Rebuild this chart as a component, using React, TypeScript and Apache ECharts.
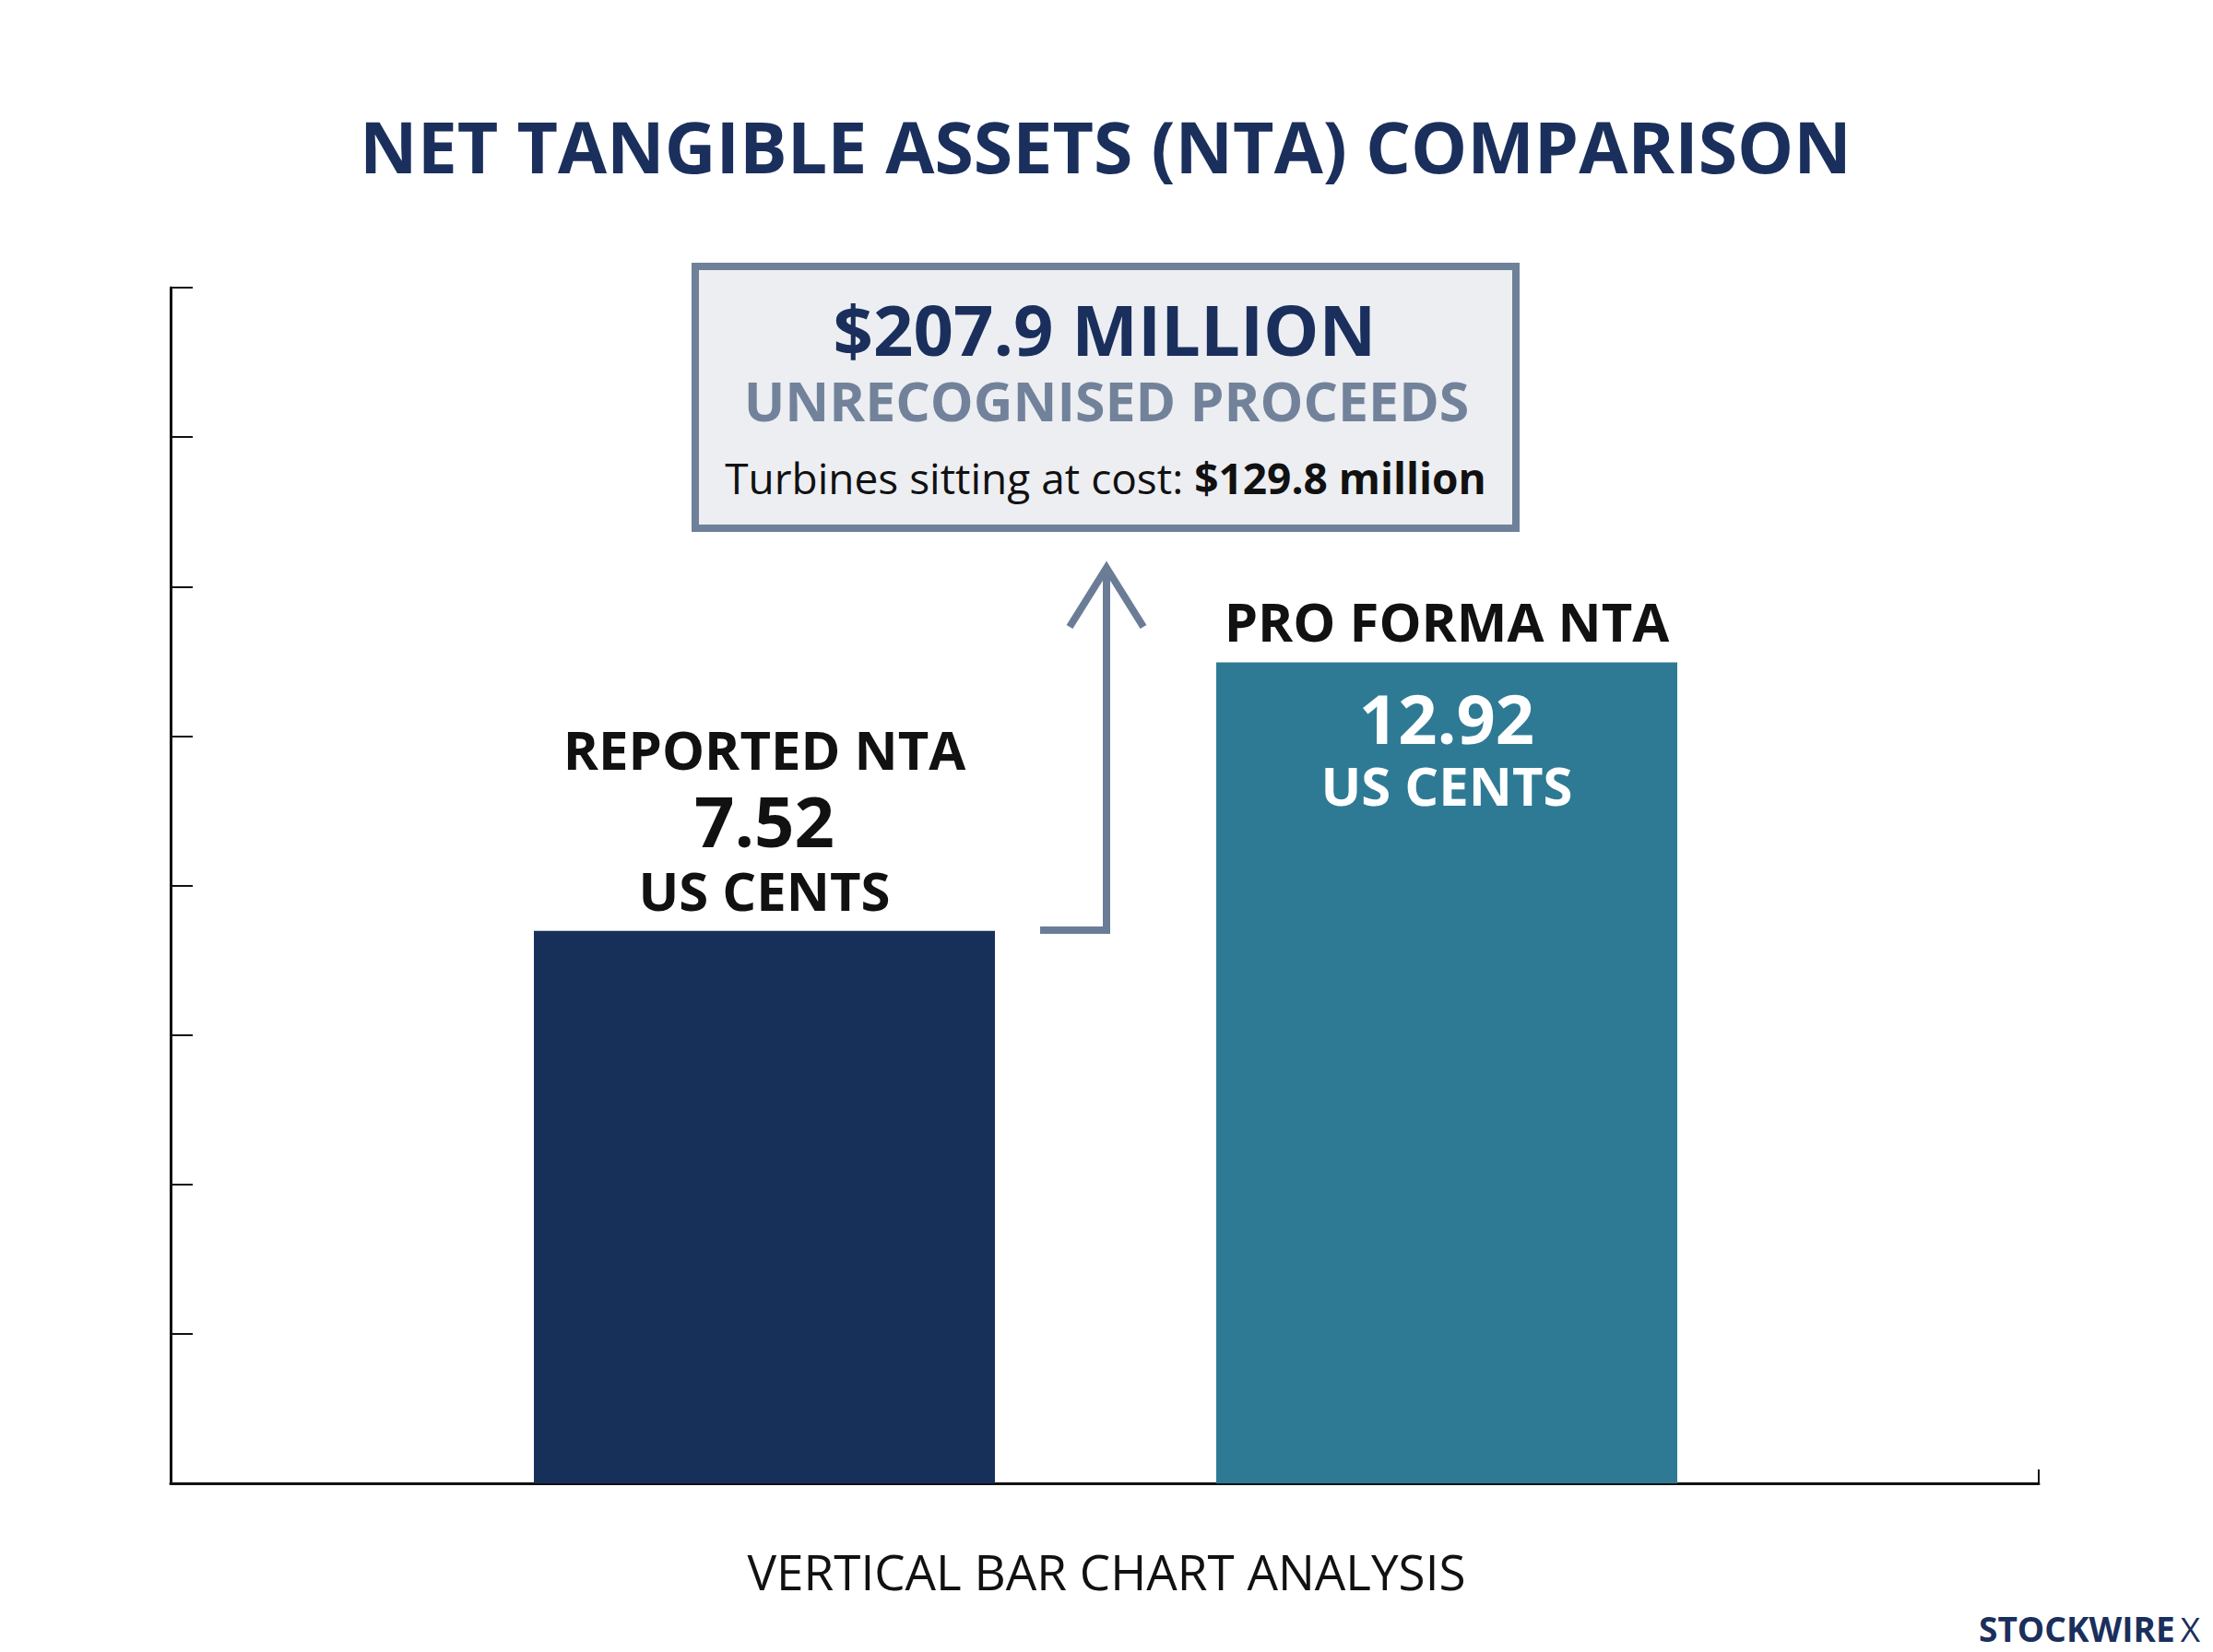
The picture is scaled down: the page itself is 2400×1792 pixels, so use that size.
import React, { useEffect, useRef } from 'react';
import * as echarts from 'echarts';

// ---------- data ----------
const categories = ['REPORTED NTA', 'PRO FORMA NTA'];
const ntaValues = [7.52, 12.92];
const unitLabel = 'US CENTS';
const barColors = ['#17305a', '#2e7a94'];
const titleText = 'NET TANGIBLE ASSETS (NTA) COMPARISON';
const calloutHeadline = '$207.9 MILLION';
const calloutSub = 'UNRECOGNISED PROCEEDS';
const calloutNoteLabel = 'Turbines sitting at cost: ';
const calloutNoteValue = '$129.8 million';
const footerText = 'VERTICAL BAR CHART ANALYSIS';
const brandText = 'STOCKWIRE';
const brandMark = 'X';
const tickScale = [0, 8, 1]; // min, max, interval of the unlabelled tick scale
const barScale = [2.47, 27.5]; // unlabelled (log) value range used for the bar heights

const FONT = '"Open Sans", "Noto Sans", sans-serif';
const NAVY = '#1a2f5c';
const SLATE = '#6f8099';

export default function App() {
  const ref = useRef<HTMLDivElement>(null);

  useEffect(() => {
    if (!ref.current) return;
    const chart = echarts.init(ref.current, null, { renderer: 'svg' });

    const option: any = {
      animation: false,
      backgroundColor: '#ffffff',
      textStyle: { fontFamily: FONT },
      grid: [
        { left: 185, right: 189, top: 312, bottom: 183 },
        { left: 459, right: 461, top: 312, bottom: 183 },
      ],
      xAxis: [
        {
          gridIndex: 0,
          type: 'value',
          min: 0,
          max: 1,
          interval: 1,
          axisLine: { show: true, lineStyle: { color: '#111111', width: 3 } },
          axisTick: { show: true, inside: true, length: 15, lineStyle: { color: '#111111', width: 2 } },
          axisLabel: { show: false },
          splitLine: { show: false },
        },
        {
          gridIndex: 1,
          type: 'category',
          data: categories,
          show: false,
        },
      ],
      yAxis: [
        {
          gridIndex: 0,
          type: 'value',
          min: tickScale[0],
          max: tickScale[1],
          interval: tickScale[2],
          axisLine: { show: true, lineStyle: { color: '#111111', width: 3 } },
          axisTick: { show: true, inside: true, length: 24, lineStyle: { color: '#111111', width: 2 } },
          axisLabel: { show: false },
          splitLine: { show: false },
        },
        {
          gridIndex: 1,
          type: 'log',
          min: barScale[0],
          max: barScale[1],
          show: false,
          splitLine: { show: false },
        },
      ],
      series: [
        {
          type: 'bar',
          xAxisIndex: 1,
          yAxisIndex: 1,
          barWidth: 500,
          barGap: '-100%',
          clip: true,
          z: 2,
          data: ntaValues.map((v, i) => ({
            value: v,
            itemStyle: { color: barColors[i] },
            label:
              i === 0
                ? {
                    position: 'top',
                    distance: 6,
                    rich: {
                      v: { fontFamily: FONT, fontSize: 76, fontWeight: 'bold', color: '#111111', lineHeight: 76 },
                      u: { fontFamily: FONT, fontSize: 58, fontWeight: 'bold', color: '#111111', lineHeight: 76 },
                    },
                  }
                : {
                    position: 'insideTop',
                    distance: 20,
                    rich: {
                      v: { fontFamily: FONT, fontSize: 74, fontWeight: 'bold', color: '#ffffff', lineHeight: 80 },
                      u: { fontFamily: FONT, fontSize: 58, fontWeight: 'bold', color: '#ffffff', lineHeight: 66 },
                    },
                  },
          })),
          label: {
            show: true,
            formatter: (p: any) => `{v|${p.value}}\n{u|${unitLabel}}`,
          },
        },
        {
          type: 'bar',
          xAxisIndex: 1,
          yAxisIndex: 1,
          barWidth: 500,
          barGap: '-100%',
          clip: true,
          silent: true,
          z: 3,
          itemStyle: { color: 'rgba(0,0,0,0)' },
          data: ntaValues.map((v, i) => ({ value: v, label: { distance: i === 0 ? 164 : 12 } })),
          label: {
            show: true,
            position: 'top',
            formatter: '{b}',
            fontFamily: FONT,
            fontSize: 58,
            fontWeight: 'bold',
            color: '#111111',
            lineHeight: 66,
          },
        },
      ],
      graphic: [
        {
          type: 'text',
          style: {
            text: titleText,
            x: 1199,
            y: 158,
            align: 'center',
            verticalAlign: 'middle',
            fontFamily: FONT,
            fontSize: 77,
            fontWeight: 'bold',
            fill: NAVY,
          },
        },
        {
          type: 'rect',
          shape: { x: 754, y: 289, width: 890, height: 284 },
          style: { fill: '#eceef2', stroke: SLATE, lineWidth: 8 },
        },
        {
          type: 'text',
          style: {
            text: calloutHeadline,
            x: 1198,
            y: 356,
            align: 'center',
            verticalAlign: 'middle',
            fontFamily: FONT,
            fontSize: 76,
            fontWeight: 'bold',
            fill: NAVY,
          },
        },
        {
          type: 'text',
          style: {
            text: calloutSub,
            x: 1200,
            y: 434,
            align: 'center',
            verticalAlign: 'middle',
            fontFamily: FONT,
            fontSize: 59,
            fontWeight: 'bold',
            fill: '#72829a',
          },
        },
        {
          type: 'text',
          style: {
            text: `{n|${calloutNoteLabel}}{b|${calloutNoteValue}}`,
            x: 1199,
            y: 518,
            align: 'center',
            verticalAlign: 'middle',
            rich: {
              n: { fontFamily: FONT, fontSize: 46, fontWeight: 'normal', fill: '#111111', color: '#111111' },
              b: { fontFamily: FONT, fontSize: 46, fontWeight: 'bold', fill: '#111111', color: '#111111' },
            },
          },
        },
        {
          type: 'polyline',
          shape: { points: [[1128, 1009], [1200, 1009], [1200, 618]] },
          style: { stroke: '#6b7d96', lineWidth: 8, fill: 'none' },
        },
        {
          type: 'polyline',
          shape: { points: [[1160, 680], [1200, 616], [1240, 680]] },
          style: { stroke: '#6b7d96', lineWidth: 8, fill: 'none', lineJoin: 'miter' },
        },
        {
          type: 'text',
          style: {
            text: footerText,
            x: 1200,
            y: 1704,
            align: 'center',
            verticalAlign: 'middle',
            fontFamily: FONT,
            fontSize: 53,
            fontWeight: 'normal',
            fill: '#111111',
          },
        },
        {
          type: 'text',
          style: {
            text: `{a|${brandText}}{x|${brandMark}}`,
            x: 2386,
            y: 1766,
            align: 'right',
            verticalAlign: 'middle',
            rich: {
              a: { fontFamily: FONT, fontSize: 37, fontWeight: 'bold', fill: NAVY, color: NAVY, lineHeight: 40 },
              x: { fontFamily: FONT, fontSize: 37, fontWeight: 'normal', fill: NAVY, color: NAVY, lineHeight: 40, padding: [0, 0, 0, 6] },
            },
          },
        },
      ],
    };

    chart.setOption(option);
    return () => chart.dispose();
  }, []);

  return (
    <div
      ref={ref}
      style={{ position: 'absolute', left: 0, top: 0, width: 2400, height: 1792 }}
    />
  );
}
